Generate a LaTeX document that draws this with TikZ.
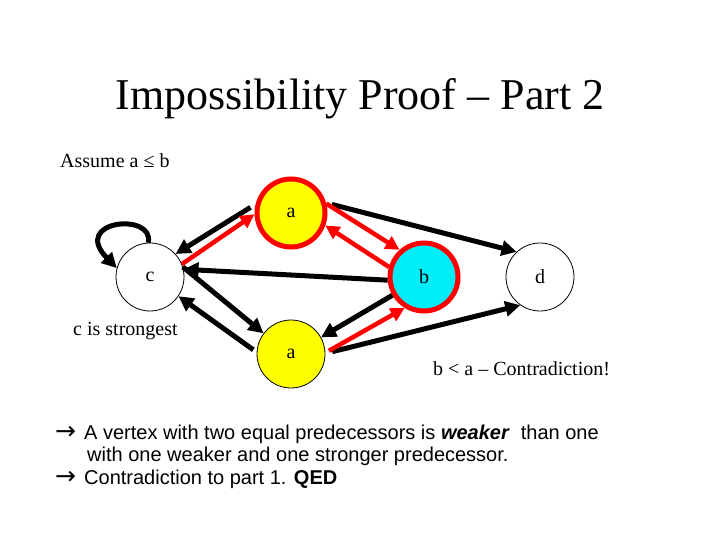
\documentclass[tikz,border=0pt]{standalone}
\usepackage{fontspec}
\setmainfont{Liberation Serif}
\newfontfamily\arialf{Liberation Sans}
\newfontfamily\symf{DejaVu Sans}
\usetikzlibrary{arrows.meta}
\definecolor{nodeyellow}{RGB}{255,255,0}
\definecolor{nodecyan}{RGB}{0,238,250}
\definecolor{edgered}{RGB}{255,0,0}
\newcommand{\bigarrow}{\rlap{\symf\fontsize{25}{25}\selectfont →}\hspace{29pt}}
\tikzset{
  vtx/.style={circle,minimum size=68pt,inner sep=0pt,draw=black,line width=0.8pt,font=\fontsize{20}{24}\selectfont},
  hot/.style={draw=edgered,line width=5pt},
  blk/.style={draw=black,line width=5pt,-{Triangle[length=15pt,width=15pt]}},
  redarr/.style={draw=edgered,line width=4.5pt,-{Triangle[length=14pt,width=14pt]}},
  lbl/.style={anchor=base west,inner sep=0pt,font=\fontsize{20}{24}\selectfont},
  bodytxt/.style={anchor=base west,inner sep=0pt,font=\arialf\fontsize{20}{24}\selectfont},
}
\begin{document}
\begin{tikzpicture}[x=1pt,y=-1pt]
\useasboundingbox[fill=white] (0,0) rectangle (720,540);
% title
\node[anchor=base,inner sep=0pt,font=\fontsize{44}{50}\selectfont] (title) at (360,110) {Impossibility Proof – Part 2};
\node[lbl] (assume) at (60,168) {Assume a ≤ b};
% vertices
\node[vtx,fill=nodeyellow,hot] (at) at (291,213) {a};
\node[vtx,fill=white] (c) at (150,277) {c};
\node[vtx,fill=nodecyan,hot] (b) at (424,277) {b};
\node[vtx,fill=white] (d) at (540,277) {d};
\node[vtx,fill=nodeyellow] (ab) at (291,354) {a};
% labels
\node[lbl] (strong) at (73,335) {c is strongest};
\node[lbl] (contra) at (433,375) {b < a – Contradiction!};
% edges
\draw[blk] (c.93) .. controls (155,212) and (70,220) .. (c.165);
\draw[blk,shorten <=6pt] (at.166) -- (c.42);
\draw[blk] (b.185) -- (c.13);
\draw[blk] (c.17) -- (ab.143);
\draw[blk,shorten <=4pt] (ab.177) -- (c.-34);
\draw[blk,shorten <=6pt] (at.16) -- (d.133);
\draw[blk] (b.210) -- (ab.29);
\draw[blk,shorten <=7pt] (ab.1) -- (d.235);
\draw[redarr] (c.22) -- (at.182);
\draw[redarr] (at.15) -- (b.132);
\draw[redarr] (b.164) -- (at.-20);
\draw[redarr,shorten <=4pt] (ab.2) -- (b.238);
% bottom text
\node[bodytxt] (l1) at (55,439) {\bigarrow A vertex with two equal predecessors is \textbf{\textit{weaker}}\ \ than one};
\node[bodytxt] (l2) at (87,461.5) {with one weaker and one stronger predecessor.};
\node[bodytxt] (l3) at (55,484) {\bigarrow Contradiction to part 1. \textbf{QED}};
\end{tikzpicture}
\end{document}
